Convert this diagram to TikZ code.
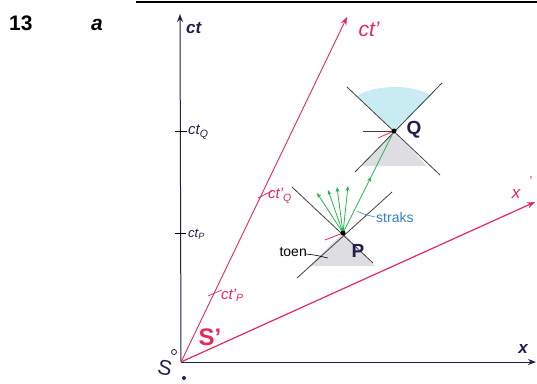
\documentclass[tikz,border=0pt]{standalone}
\usepackage{fontspec}
\setmainfont{Liberation Sans}
\usetikzlibrary{arrows.meta,calc}
\definecolor{ink}{RGB}{35,30,80}
\definecolor{rd}{RGB}{232,40,90}
\definecolor{grn}{RGB}{40,180,80}
\definecolor{blu}{RGB}{50,130,200}
\definecolor{ice}{RGB}{200,236,242}
\definecolor{gfill}{RGB}{222,222,226}
\tikzset{
  axis/.style={ink,line width=1pt,-{Stealth[length=8pt,width=6pt]}},
  raxis/.style={rd,line width=0.9pt,-{Stealth[length=8pt,width=6pt]}},
  cone/.style={black!75,line width=0.8pt},
  ray/.style={grn,line width=0.8pt,-{Stealth[length=5pt,width=4pt]}},
  hand/.style={font=\bfseries\itshape\fontsize{17}{17}\selectfont},
  evt/.style={circle,fill=black,inner sep=0pt,minimum size=5pt},
  elabel/.style={ink,font=\bfseries\fontsize{19}{19}\selectfont},
  tick/.style={line width=0.7pt},
  small/.style={font=\itshape\fontsize{15}{15}\selectfont}
}
\begin{document}
\begin{tikzpicture}[x=1pt,y=-1pt]
\useasboundingbox (0,0) rectangle (537,383);
% header
\draw[line width=2pt] (136,1.5) -- (537,1.5);
\node[font=\bfseries\fontsize{21}{21}\selectfont,anchor=west,inner sep=0pt] (num) at (9,23) {13};
\node[font=\bfseries\itshape\fontsize{21}{21}\selectfont,inner sep=0pt] (part) at (97,25) {a};
% coordinates
\coordinate (O) at (181,362);
\coordinate (ctend) at (180,14);
\coordinate (xend) at (536,362);
\coordinate (ctpend) at (347,17);
\coordinate (xpend) at (535,202);
\coordinate (Q) at (394,131);
\coordinate (P) at (343,233);
% shading
\fill[ice] (Q) -- (357,96) .. controls (375,84) and (415,84) .. (431,96) -- cycle;
\fill[gfill] (Q) -- (362,166) -- (427,166) -- cycle;
\fill[gfill] (P) -- (309,266) -- (375,266) -- cycle;
% axes
\draw[axis] (O) -- (ctend);
\draw[axis] (O) -- (xend);
\draw[raxis] (O) -- (ctpend);
\draw[raxis,line width=1.2pt] (O) -- (xpend);
\node[ink,hand,anchor=west,inner sep=0pt] (ctlab) at (186,28) {ct};
\node[ink,hand,inner sep=0pt] (xlab) at (523,349) {x};
\node[rd,font=\itshape\fontsize{21}{21}\selectfont,inner sep=0pt] (ctplab) at (369,29) {ct'};
\node[rd,font=\itshape\fontsize{17}{17}\selectfont,inner sep=0pt] (xplab) at (516,194) {x};
\node[rd,font=\fontsize{13}{13}\selectfont,inner sep=0pt] (xpprime) at (531,181) {'};
% ticks on ct axis
\draw[tick] (175,131) -- (187,131);
\node[ink,small,anchor=west,inner sep=0pt] (ctQ) at (188,132) {ct\textsubscript{Q}};
\draw[tick] (175,233) -- (186,233);
\node[ink,anchor=west,inner sep=0pt,font=\itshape\fontsize{13}{13}\selectfont] (ctP) at (188,234) {ct\textsubscript{P}};
% ticks on ct' axis
\draw[rd,tick] (258,198) -- (272,191);
\node[rd,small,anchor=west,inner sep=0pt] (ctpQ) at (268,196) {ct'\textsubscript{Q}};
\draw[rd,tick] (208,296) -- (222,290);
\node[rd,small,anchor=west,inner sep=0pt] (ctpP) at (221,295) {ct'\textsubscript{P}};
% S' and S
\node[rd,font=\bfseries\fontsize{24}{24}\selectfont,inner sep=0pt] (Sp) at (210,337) {S'};
\node[ink,font=\fontsize{21}{21}\selectfont,rotate=-12,inner sep=0pt] (S) at (165,368) {S};
\draw[ink,line width=0.8pt] (174,352) circle (2.5pt);
\fill[ink] (184,378) circle (2pt);
% light cone Q
\draw[cone] ($(Q)+(-47,-44)$) -- ($(Q)+(46,44)$);
\draw[cone] ($(Q)+(48,-48)$) -- ($(Q)+(-39,41)$);
\draw[cone] (363,131) -- (Q);
\draw[rd,line width=0.8pt] (378,138) -- (Q);
% light cone P
\draw[cone] ($(P)+(-51,-46)$) -- ($(P)+(30,30)$);
\draw[cone] ($(P)+(49,-41)$) -- ($(P)+(-46,45)$);
\draw[rd,line width=0.8pt] (325,240) -- (P);
% green rays
\draw[ray] (P) -- (317,193);
\draw[ray] (P) -- (328,190);
\draw[ray] (P) -- (337,187);
\draw[ray] (P) -- (348,186);
\coordinate (mid) at ($(P)!0.55!(Q)$);
\draw[ray] (P) -- (mid);
\draw[grn,line width=0.8pt] (mid) -- (Q);
% events
\node[evt] (Pdot) at (P) {};
\node[evt] (Qdot) at (Q) {};
\node[elabel] (Qlab) at (414,130) {Q};
\node[elabel] (Plab) at (358,251) {P};
% annotations
\node[blu,anchor=west,inner sep=0pt,font=\fontsize{14}{14}\selectfont] (straks) at (376,217) {straks};
\draw[blu,line width=0.6pt] (357,211) .. controls (363,214) .. (375,217);
\node[anchor=east,inner sep=0pt,font=\fontsize{14}{14}\selectfont] (toen) at (307,252) {toen};
\draw[line width=0.6pt] (306,254) .. controls (315,255) .. (328,258);
\end{tikzpicture}
\end{document}
